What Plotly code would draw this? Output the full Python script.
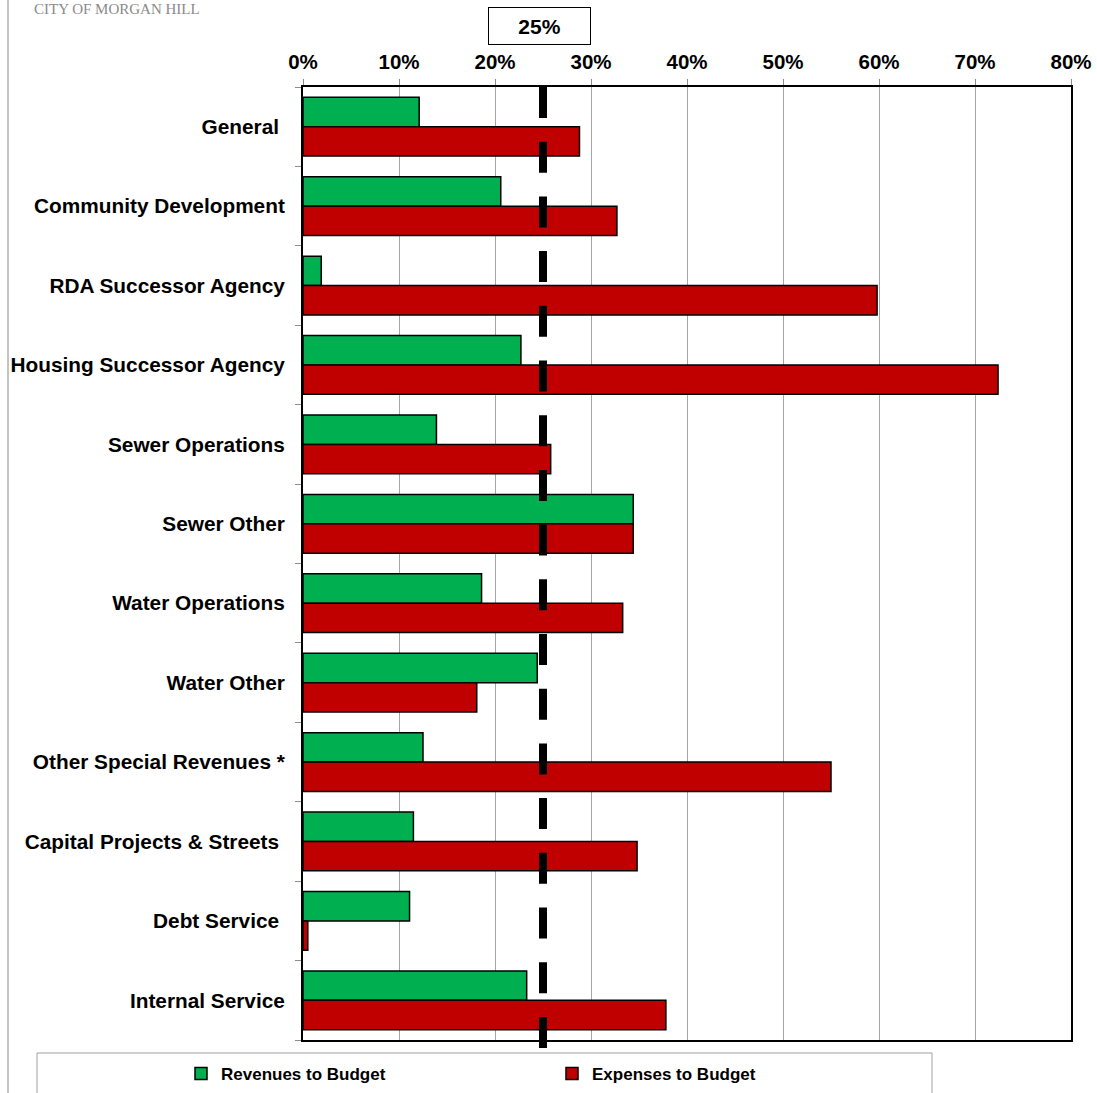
import plotly.graph_objects as go

# Fund categories, top to bottom
categories = [
    "General",
    "Community Development",
    "RDA Successor Agency",
    "Housing Successor Agency",
    "Sewer Operations",
    "Sewer Other",
    "Water Operations",
    "Water Other",
    "Other Special Revenues *",
    "Capital Projects & Streets",
    "Debt Service",
    "Internal Service",
]
# Labels as printed (a few carry a trailing space)
category_labels = [
    "General\u00a0",
    "Community Development",
    "RDA Successor Agency",
    "Housing Successor Agency",
    "Sewer Operations",
    "Sewer Other",
    "Water Operations",
    "Water Other",
    "Other Special Revenues *",
    "Capital Projects & Streets\u00a0",
    "Debt Service\u00a0",
    "Internal Service",
]

# Percent of annual budget realised year-to-date
revenues_pct = [12.1, 20.6, 1.9, 22.7, 13.9, 34.4, 18.6, 24.4, 12.5, 11.5, 11.1, 23.3]
expenses_pct = [28.8, 32.7, 59.8, 72.4, 25.8, 34.4, 33.3, 18.1, 55.0, 34.8, 0.5, 37.8]

x_ticks = [0, 10, 20, 30, 40, 50, 60, 70, 80]
x_tick_labels = [f"{t}%" for t in x_ticks]
X_MAX = 80
TARGET = 25  # expected share of the year elapsed

GREEN = "#00b050"
RED = "#c00000"
FONT = "Arial, Liberation Sans, sans-serif"

fig = go.Figure()
fig.add_trace(go.Bar(
    y=categories, x=revenues_pct, orientation="h", name="Revenues to Budget",
    marker=dict(color=GREEN, line=dict(color="black", width=1.5)),
))
fig.add_trace(go.Bar(
    y=categories, x=expenses_pct, orientation="h", name="Expenses to Budget",
    marker=dict(color=RED, line=dict(color="black", width=1.5)),
))

# plot-area geometry (pixels) used to place paper-referenced decorations
W, H = 1097, 1093
ML, MR, MT, MB = 303, 26, 87, 53
PW, PH = W - ML - MR, H - MT - MB


def px_x(p):
    return (p - ML) / PW


def px_y(p):
    return (H - MB - p) / PH


target_x = TARGET / X_MAX

shapes = [
    # 25% target marker
    dict(type="line", xref="paper", yref="paper", x0=target_x, x1=target_x,
         y0=1, y1=px_y(1048), line=dict(color="black", width=8, dash="31px,23.7px"),
         layer="above"),
    # legend frame
    dict(type="rect", xref="paper", yref="paper", x0=px_x(37), x1=px_x(932),
         y0=px_y(1053), y1=px_y(1100), line=dict(color="#a0a0a0", width=1)),
    # page border at left
    dict(type="line", xref="paper", yref="paper", x0=px_x(8), x1=px_x(8),
         y0=px_y(-5), y1=px_y(1100), line=dict(color="#b0b0b0", width=1.5)),
]

annotations = [
    dict(xref="paper", yref="paper", x=px_x(539), y=px_y(26), text="<b>25%</b>",
         showarrow=False, font=dict(family=FONT, size=21, color="black"),
         bordercolor="black", borderwidth=1, width=99, height=34,
         xanchor="center", yanchor="middle", bgcolor="white"),
    dict(xref="paper", yref="paper", x=px_x(33), y=px_y(0), text="CITY OF MORGAN HILL",
         showarrow=False, font=dict(family="Liberation Serif, serif", size=15, color="#8a8a8a"),
         xanchor="left", yanchor="top", borderpad=0),
]

fig.update_layout(
    width=W, height=H,
    margin=dict(l=ML, r=MR, t=MT, b=MB, autoexpand=False),
    paper_bgcolor="white", plot_bgcolor="white",
    barmode="group", bargap=0.26, bargroupgap=0,
    shapes=shapes, annotations=annotations,
    showlegend=True,
    legend=dict(
        orientation="h", x=px_x(181), xanchor="left", y=px_y(1074), yanchor="middle",
        entrywidth=326, entrywidthmode="pixels", itemwidth=30,
        font=dict(family=FONT, size=17, color="black", weight="bold"),
        bgcolor="rgba(0,0,0,0)",
    ),
    xaxis=dict(
        side="top", range=[0, X_MAX], tickvals=x_ticks, ticktext=[f"<b>{t}</b>" for t in x_tick_labels],
        showgrid=True, gridcolor="#a6a6a6", gridwidth=1,
        ticks="outside", ticklen=6, tickcolor="#8c8c8c",
        showline=True, linecolor="black", linewidth=2, mirror=True,
        tickfont=dict(family=FONT, size=20.5, color="black"), zeroline=False,
        ticklabelstandoff=2,
    ),
    yaxis=dict(
        categoryorder="array", categoryarray=categories, autorange="reversed",
        tickvals=categories, ticktext=[f"<b>{c}</b>" for c in category_labels],
        tickson="boundaries", ticks="outside", ticklen=6, tickcolor="#8c8c8c",
        showline=True, linecolor="black", linewidth=2, mirror=True, showgrid=False,
        tickfont=dict(family=FONT, size=20.8, color="black"), ticklabelstandoff=12,
    ),
)

fig.write_html("out.html")
